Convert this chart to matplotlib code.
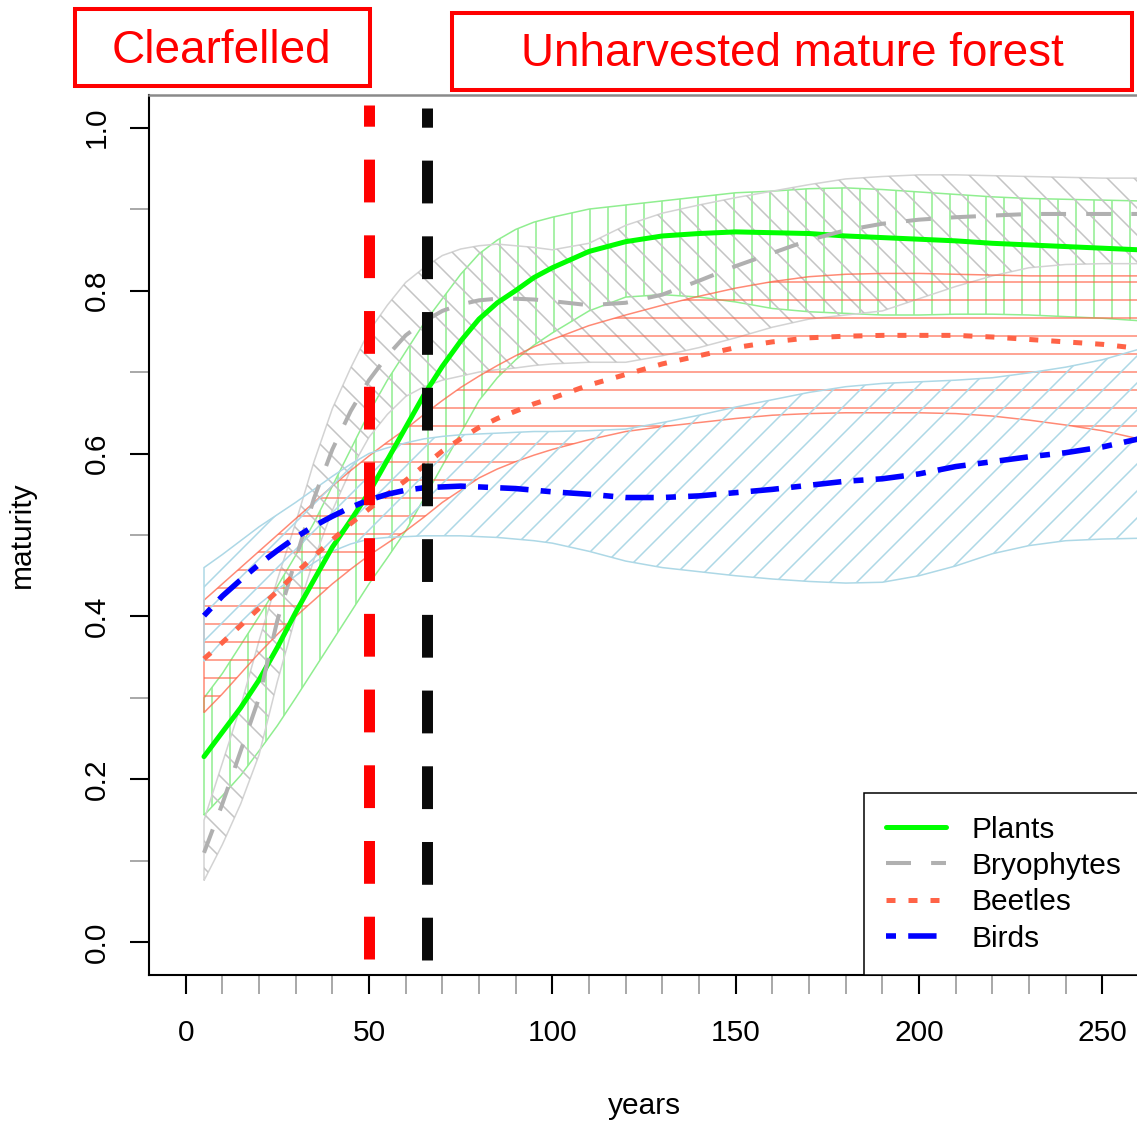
import numpy as np
import matplotlib
matplotlib.use("Agg")
import matplotlib.pyplot as plt
from matplotlib.patches import Polygon, Rectangle
from matplotlib.collections import LineCollection

plt.rcParams['font.family'] = ['Liberation Sans', 'DejaVu Sans']

# ---------------- data ----------------
years = [5, 10, 15, 20, 25, 30, 35, 40, 45, 50, 55, 60, 65, 70, 75, 80, 85, 90, 95,
         100, 110, 120, 130, 140, 150, 160, 170, 180, 190, 200, 210, 220, 230, 240,
         250, 260]

plants_mean = [0.228, 0.258, 0.288, 0.322, 0.362, 0.405, 0.445, 0.485, 0.518, 0.552,
               0.592, 0.632, 0.672, 0.707, 0.738, 0.765, 0.785, 0.800, 0.816,
               0.828, 0.848, 0.860, 0.867, 0.870, 0.872, 0.871, 0.870, 0.867, 0.865,
               0.863, 0.861, 0.858, 0.856, 0.854, 0.852, 0.850]
plants_upper = [0.300, 0.330, 0.365, 0.400, 0.437, 0.475, 0.515, 0.560, 0.605, 0.650,
                0.690, 0.725, 0.760, 0.790, 0.820, 0.845, 0.862, 0.875, 0.884,
                0.890, 0.900, 0.905, 0.910, 0.915, 0.920, 0.922, 0.925, 0.926, 0.924,
                0.921, 0.918, 0.915, 0.913, 0.912, 0.911, 0.910]
plants_lower = [0.156, 0.180, 0.205, 0.235, 0.266, 0.300, 0.335, 0.370, 0.405, 0.440,
                0.472, 0.505, 0.545, 0.585, 0.625, 0.665, 0.693, 0.715, 0.733,
                0.748, 0.775, 0.792, 0.795, 0.792, 0.786, 0.778, 0.774, 0.772, 0.770,
                0.770, 0.771, 0.771, 0.770, 0.768, 0.766, 0.763]

bryo_mean = [0.110, 0.170, 0.235, 0.300, 0.395, 0.470, 0.545, 0.605, 0.652, 0.690,
             0.720, 0.745, 0.762, 0.775, 0.783, 0.788, 0.790, 0.790, 0.789,
             0.787, 0.782, 0.785, 0.795, 0.812, 0.830, 0.846, 0.862, 0.874, 0.882,
             0.887, 0.890, 0.892, 0.894, 0.894, 0.894, 0.894]
bryo_upper = [0.150, 0.220, 0.290, 0.370, 0.445, 0.515, 0.590, 0.655, 0.705, 0.750,
              0.782, 0.810, 0.828, 0.843, 0.851, 0.855, 0.857, 0.855, 0.853,
              0.850, 0.858, 0.880, 0.895, 0.905, 0.914, 0.922, 0.930, 0.937, 0.940,
              0.942, 0.942, 0.941, 0.940, 0.939, 0.938, 0.938]
bryo_lower = [0.076, 0.120, 0.170, 0.230, 0.320, 0.400, 0.470, 0.530, 0.580, 0.620,
              0.648, 0.670, 0.682, 0.690, 0.695, 0.700, 0.703, 0.705, 0.708,
              0.710, 0.712, 0.712, 0.720, 0.730, 0.742, 0.755, 0.765, 0.770, 0.775,
              0.790, 0.805, 0.818, 0.828, 0.832, 0.833, 0.833]

beetle_mean = [0.348, 0.368, 0.389, 0.410, 0.431, 0.453, 0.474, 0.494, 0.514, 0.532,
               0.550, 0.567, 0.585, 0.603, 0.618, 0.632, 0.643, 0.652, 0.661,
               0.668, 0.684, 0.697, 0.710, 0.720, 0.730, 0.737, 0.742, 0.744, 0.745,
               0.745, 0.745, 0.743, 0.740, 0.737, 0.734, 0.729]
beetle_upper = [0.420, 0.440, 0.460, 0.480, 0.500, 0.520, 0.540, 0.560, 0.579, 0.597,
                0.614, 0.630, 0.648, 0.665, 0.681, 0.695, 0.708, 0.720, 0.731,
                0.740, 0.757, 0.770, 0.782, 0.793, 0.803, 0.811, 0.817, 0.820, 0.821,
                0.821, 0.820, 0.819, 0.818, 0.818, 0.818, 0.818]
beetle_lower = [0.282, 0.305, 0.330, 0.355, 0.378, 0.400, 0.420, 0.440, 0.458, 0.475,
                0.490, 0.505, 0.522, 0.540, 0.555, 0.570, 0.581, 0.590, 0.598,
                0.605, 0.617, 0.627, 0.633, 0.638, 0.643, 0.647, 0.649, 0.650, 0.650,
                0.650, 0.649, 0.646, 0.641, 0.635, 0.628, 0.618]

bird_mean = [0.401, 0.425, 0.445, 0.464, 0.481, 0.497, 0.511, 0.523, 0.534, 0.543,
             0.550, 0.555, 0.558, 0.559, 0.560, 0.559, 0.558, 0.557, 0.555,
             0.553, 0.550, 0.546, 0.546, 0.548, 0.552, 0.556, 0.561, 0.566, 0.569,
             0.575, 0.584, 0.590, 0.596, 0.601, 0.608, 0.618]
bird_upper = [0.460, 0.476, 0.493, 0.510, 0.525, 0.540, 0.556, 0.572, 0.587, 0.600,
              0.607, 0.613, 0.618, 0.621, 0.623, 0.624, 0.625, 0.626, 0.627,
              0.627, 0.628, 0.630, 0.638, 0.647, 0.657, 0.666, 0.675, 0.682, 0.686,
              0.688, 0.690, 0.693, 0.699, 0.706, 0.715, 0.728]
bird_lower = [0.345, 0.370, 0.393, 0.415, 0.433, 0.450, 0.466, 0.480, 0.489, 0.495,
              0.497, 0.498, 0.499, 0.499, 0.499, 0.498, 0.497, 0.495, 0.493,
              0.490, 0.480, 0.468, 0.460, 0.455, 0.450, 0.446, 0.443, 0.441, 0.442,
              0.450, 0.462, 0.477, 0.487, 0.493, 0.495, 0.496]

clearfell_year = 50
mature_year = 65.8

series_names = ['Plants', 'Bryophytes', 'Beetles', 'Birds']
x_ticks = [0, 50, 100, 150, 200, 250]
x_minor = [10, 20, 30, 40, 60, 70, 80, 90, 110, 120, 130, 140, 160, 170, 180, 190,
           210, 220, 230, 240]
y_ticks = [0.0, 0.2, 0.4, 0.6, 0.8, 1.0]
y_tick_labels = ['0.0', '0.2', '0.4', '0.6', '0.8', '1.0']
y_minor = [0.1, 0.3, 0.5, 0.7, 0.9]

# ---------------- figure ----------------
FW, FH = 1137, 1121
fig = plt.figure(figsize=(FW / 100, FH / 100), dpi=100)
AX_L, AX_R, AX_T, AX_B = 149, 1139, 95, 975
AW, AH = AX_R - AX_L, AX_B - AX_T
ax = fig.add_axes([AX_L / FW, (FH - AX_B) / FH, AW / FW, AH / FH])
ax.set_xlim(-10, 260)
ax.set_ylim(-0.04, 1.04)

x = np.array(years, dtype=float)


def hatch_band(lo, hi, color, kind, spacing, lw=1.1, alpha=1.0, ecolor=None):
    lo = np.asarray(lo); hi = np.asarray(hi)
    verts = np.vstack([np.column_stack([x, lo]), np.column_stack([x[::-1], hi[::-1]])])
    poly = Polygon(verts, closed=True, fill=False,
                   edgecolor=ecolor or color, lw=lw, alpha=alpha, zorder=2)
    ax.add_patch(poly)
    segs = []
    if kind == '|':
        for xp in np.arange(spacing / 2, AW, spacing):
            segs.append([(xp / AW, 0), (xp / AW, 1)])
    elif kind == '-':
        for yp in np.arange(spacing / 2, AH, spacing):
            segs.append([(0, yp / AH), (1, yp / AH)])
    elif kind == '/':
        for c in np.arange(-AW, AH, spacing):
            segs.append([(0, c / AH), (1, (c + AW) / AH)])
    elif kind == '\\':
        for c in np.arange(0, AH + AW, spacing):
            segs.append([(0, c / AH), (1, (c - AW) / AH)])
    lc = LineCollection(segs, transform=ax.transAxes, colors=color, lw=lw,
                        alpha=alpha, zorder=2)
    ax.add_collection(lc, autolim=False)
    lc.set_clip_path(poly)


hatch_band(plants_lower, plants_upper, '#90EE90', '|', 18)
hatch_band(bryo_lower, bryo_upper, '#C4C4C4', '\\', 27, ecolor='#D3D3D3')
hatch_band(beetle_lower, beetle_upper, '#FF6347', '-', 18, alpha=0.75)
hatch_band(bird_lower, bird_upper, '#ADD8E6', '/', 27)

# mean lines
l_pl, = ax.plot(x, plants_mean, color='#00FF00', lw=3.6, solid_capstyle='round',
                solid_joinstyle='round', zorder=4)
l_br, = ax.plot(x, bryo_mean, color='#B0B0B0', lw=2.9, dashes=(6.2, 5.0),
                dash_capstyle='butt', zorder=4)
l_be, = ax.plot(x, beetle_mean, color='#FF6347', lw=3.6, dashes=(1.8, 2.6),
                dash_capstyle='butt', zorder=4)
l_bi, = ax.plot(x, bird_mean, color='#0000FF', lw=4.0, dashes=(1.8, 2.2, 5.1, 2.2),
                dash_capstyle='butt', zorder=4)

# vertical period markers
ax.plot([clearfell_year, clearfell_year], [-0.02, 1.028], color='#FF0000', lw=7.9,
        dashes=(3.9, 3.0), dash_capstyle='butt', zorder=5)
ax.plot([mature_year, mature_year], [-0.022, 1.0245], color='#0A0A0A', lw=7.9,
        dashes=(3.9, 3.0), dash_capstyle='butt', zorder=5)

# axes styling
for s in ['left', 'bottom']:
    ax.spines[s].set_color('black')
    ax.spines[s].set_linewidth(1.5)
ax.spines['top'].set_color('#8A8A8A')
ax.spines['top'].set_linewidth(1.8)
ax.spines['right'].set_visible(False)

ax.set_xticks(x_ticks)
ax.set_xticklabels([str(v) for v in x_ticks])
ax.set_xticks(x_minor, minor=True)
ax.set_yticks(y_ticks)
ax.set_yticklabels(y_tick_labels)
ax.set_yticks(y_minor, minor=True)
ax.tick_params(which='major', direction='out', length=13.5, width=1.5, color='black',
               labelsize=21.5)
ax.tick_params(which='minor', direction='out', length=13.5, width=1.2, color='#9A9A9A')
ax.tick_params(axis='x', which='major', pad=18.5)
ax.tick_params(axis='y', which='major', pad=24)
for lab in ax.get_yticklabels():
    lab.set_rotation(90)
    lab.set_ha('center')
    lab.set_va('center')

ax.set_xlabel('years', fontsize=21.5, va='center')
ax.xaxis.set_label_coords(0.5, (AX_B - 1106) / AH)
ax.set_ylabel('maturity', fontsize=21.5, va='center')
ax.yaxis.set_label_coords((22 - AX_L) / AW, 0.5)

# legend
leg = ax.legend([l_pl, l_br, l_be, l_bi], series_names, loc='lower left',
                bbox_to_anchor=((864 - AX_L) / AW, 0), borderaxespad=0,
                fontsize=21.5, frameon=True, fancybox=False, framealpha=1,
                edgecolor='black', handlelength=2.0, handletextpad=0.85,
                labelspacing=0.28, borderpad=0.75)
leg.get_frame().set_linewidth(1.1)
leg.set_zorder(10)


# title boxes
def px_rect(x0, y0, x1, y1):
    return Rectangle((x0 / FW, 1 - y1 / FH), (x1 - x0) / FW, (y1 - y0) / FH,
                     transform=fig.transFigure, fill=False, edgecolor='#FF0000', lw=2.9)


fig.add_artist(px_rect(75, 9, 370, 86))
fig.add_artist(px_rect(452, 13, 1132, 90))
fig.text(221 / FW, 1 - 63 / FH, 'Clearfelled', color='#FF0000', fontsize=33,
         ha='center', va='baseline')
fig.text(792 / FW, 1 - 66 / FH, 'Unharvested mature forest', color='#FF0000', fontsize=33,
         ha='center', va='baseline')

fig.savefig('out.png', dpi=100)
